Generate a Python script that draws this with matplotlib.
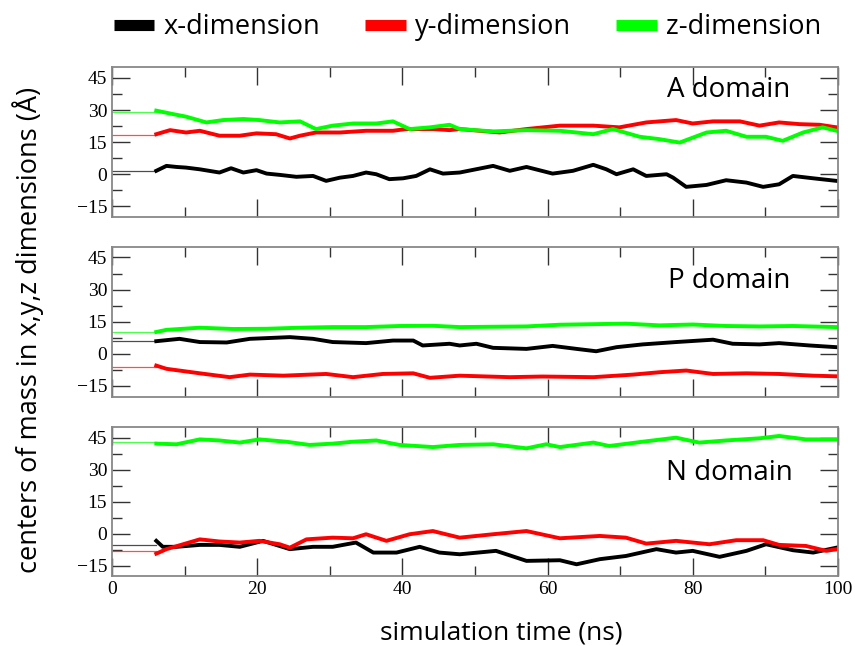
import matplotlib.pyplot as plt
from matplotlib.lines import Line2D

# start-up (equilibration) values drawn flat from 0 to 6 ns
t_start = 6.1

# ---- A domain ----
a_x_t = [6.1, 7.5, 8.9, 10.2, 12.1, 14.8, 16.4, 18.1, 19.9, 21.3, 23.1, 25.4, 27.7, 29.5, 31.4, 33.2, 35.0, 36.4,
         38.2, 40.1, 41.9, 43.8, 45.6, 47.9, 52.5, 54.8, 57.1, 60.7, 63.5, 66.3, 68.1, 69.5, 71.8, 73.6, 76.4, 77.3,
         79.1, 81.9, 84.6, 87.4, 89.7, 91.9, 93.8, 96.6, 99.8]
a_x_v = [1.6, 3.9, 3.4, 3.1, 2.3, 0.8, 2.8, 0.8, 1.9, 0.3, -0.3, -1.2, -0.8, -3.1, -1.6, -0.8, 0.8, 0.0,
         -2.3, -1.9, -0.8, 2.3, 0.3, 0.8, 3.9, 1.6, 3.4, 0.3, 1.6, 4.4, 2.3, 0.0, 2.3, -0.8, 0.0, -1.6,
         -5.9, -5.0, -2.8, -3.9, -5.9, -4.7, -0.8, -1.9, -3.1]
a_y_t = [6.1, 8.0, 10.2, 12.1, 14.8, 17.6, 19.9, 22.6, 24.5, 25.9, 28.1, 31.4, 35.0, 38.7, 40.5, 44.2, 46.5, 47.9,
         53.4, 57.1, 61.7, 66.3, 69.9, 73.6, 77.7, 80.0, 82.8, 86.5, 89.2, 91.9, 94.7, 97.5, 99.8]
a_y_v = [18.7, 20.6, 19.5, 20.3, 18.0, 18.0, 19.1, 18.7, 16.7, 18.0, 19.5, 19.5, 20.3, 20.3, 21.1, 21.1, 20.6, 21.1,
         19.5, 21.1, 22.7, 22.7, 21.9, 24.2, 25.3, 23.7, 24.7, 24.7, 22.7, 24.2, 23.4, 23.1, 21.9]
a_z_t = [6.1, 8.4, 10.2, 13.0, 15.3, 18.1, 20.3, 23.1, 25.9, 28.1, 30.4, 33.2, 36.4, 38.7, 41.0, 43.8, 46.5, 47.9,
         52.5, 57.1, 61.7, 66.3, 69.0, 72.7, 75.4, 78.2, 81.9, 84.6, 87.4, 90.1, 92.4, 95.2, 97.9, 99.8]
a_z_v = [29.7, 28.1, 26.9, 24.2, 25.3, 25.8, 25.3, 24.2, 24.7, 21.1, 22.7, 23.7, 23.7, 24.7, 21.1, 21.9, 23.1, 21.1,
         20.0, 20.6, 20.3, 18.7, 21.1, 17.5, 16.4, 14.8, 19.5, 20.3, 17.5, 17.5, 15.6, 19.5, 21.9, 20.3]
a_start = [1.5, 18.4, 29.2]

# ---- P domain ----
p_x_t = [6.1, 9.3, 12.1, 15.8, 19.0, 24.5, 27.7, 30.4, 35.0, 38.7, 41.5, 42.8, 46.5, 47.9, 50.2, 52.5, 57.1, 60.7,
         64.0, 66.7, 69.5, 73.1, 77.7, 82.8, 85.5, 89.2, 91.9, 96.1, 99.8]
p_x_v = [5.9, 7.0, 5.5, 5.3, 7.0, 7.8, 7.0, 5.5, 5.0, 6.2, 6.2, 3.9, 4.7, 3.9, 4.7, 2.8, 2.3, 3.7,
         2.3, 1.2, 3.1, 4.4, 5.5, 6.6, 4.7, 4.4, 5.0, 3.9, 3.1]
p_y_t = [6.1, 7.5, 12.1, 16.2, 19.0, 23.6, 29.5, 33.2, 37.3, 41.5, 43.8, 47.9, 54.8, 59.3, 66.3, 71.8, 75.4, 79.1,
         82.8, 87.4, 91.9, 96.6, 99.8]
p_y_v = [-5.5, -7.0, -9.1, -10.9, -9.7, -10.2, -9.4, -10.9, -9.4, -9.1, -11.2, -10.2, -10.9, -10.6, -10.9, -9.7, -8.6, -7.8,
         -9.4, -9.1, -9.4, -10.2, -10.5]
p_z_t = [6.1, 7.5, 12.1, 16.7, 21.3, 25.9, 30.4, 35.0, 39.6, 44.2, 47.9, 57.1, 61.7, 70.8, 75.4, 80.0, 84.6, 89.2,
         93.8, 99.8]
p_z_v = [10.2, 11.2, 12.2, 11.6, 11.7, 12.2, 12.5, 12.5, 13.0, 13.1, 12.5, 12.8, 13.6, 14.1, 13.3, 13.7, 13.0, 12.8,
         13.0, 12.5]
p_start = [5.8, -6.3, 10.1]

# ---- N domain ----
n_x_t = [6.1, 7.0, 8.9, 12.1, 14.8, 17.6, 20.8, 22.6, 24.5, 27.7, 30.4, 33.6, 36.0, 39.2, 42.4, 45.1, 47.9, 52.9,
         57.1, 61.7, 64.0, 67.2, 70.8, 75.0, 77.7, 80.0, 83.7, 87.4, 90.1, 93.8, 96.6, 99.8]
n_x_v = [-3.4, -6.2, -6.2, -5.3, -5.3, -6.2, -3.4, -5.3, -7.3, -6.2, -6.2, -4.2, -8.9, -8.9, -6.2, -8.9, -9.7, -8.1,
         -12.8, -12.5, -14.4, -12.0, -10.5, -7.3, -8.9, -8.1, -10.9, -8.1, -5.0, -7.8, -8.9, -6.6]
n_y_t = [6.1, 7.5, 9.8, 12.1, 14.8, 17.6, 20.3, 23.1, 24.5, 26.8, 30.4, 33.2, 35.0, 37.8, 41.0, 44.2, 47.9, 52.5,
         57.1, 61.7, 67.2, 70.8, 73.6, 77.7, 82.3, 86.0, 89.7, 91.9, 95.6, 98.4, 99.8]
n_y_v = [-9.4, -7.3, -5.0, -2.7, -3.7, -4.2, -3.4, -5.0, -6.6, -2.7, -1.9, -2.2, -0.3, -3.4, -0.3, 1.2, -1.9, -0.3,
         1.2, -2.2, -1.1, -1.9, -4.7, -3.4, -5.0, -3.1, -3.1, -5.3, -5.8, -8.1, -7.3]
n_z_t = [6.1, 8.9, 12.1, 14.8, 17.6, 20.3, 24.0, 27.2, 30.4, 33.2, 36.4, 39.6, 44.2, 47.9, 52.5, 57.1, 59.8, 61.7,
         66.3, 68.5, 73.1, 77.7, 80.9, 84.6, 89.2, 91.9, 95.6, 99.8]
n_z_v = [42.2, 41.9, 44.2, 43.7, 42.7, 44.2, 43.1, 41.6, 42.2, 43.1, 43.7, 41.6, 40.6, 41.6, 41.9, 40.0, 41.9, 40.6,
         42.7, 41.1, 43.1, 45.0, 42.7, 43.7, 44.7, 45.8, 44.2, 44.2]
n_start = [-5.4, -8.1, 42.8]

panels = [
    ('A domain', [(a_x_t, a_x_v), (a_y_t, a_y_v), (a_z_t, a_z_v)], a_start, 0.85),
    ('P domain', [(p_x_t, p_x_v), (p_y_t, p_y_v), (p_z_t, p_z_v)], p_start, 0.77),
    ('N domain', [(n_x_t, n_x_v), (n_y_t, n_y_v), (n_z_t, n_z_v)], n_start, 0.69),
]
colors = ['#000000', '#ff0000', '#00ff00']
labels = ['x-dimension', 'y-dimension', 'z-dimension']
sans = 'Open Sans'

fig = plt.figure(figsize=(8.55, 6.46), dpi=100)
boxes = [(0.664, 0.896), (0.386, 0.618), (0.108, 0.339)]

for i, (name, series, start, ty) in enumerate(panels):
    b, t = boxes[i]
    ax = fig.add_axes([0.131, b, 0.849, t - b])
    for (tt, vv), s0, c in zip(series, start, colors):
        ax.plot([0, t_start], [s0, s0], color=c, lw=0.9, alpha=0.7)
        ax.plot(tt, vv, color=c, lw=2.8)
    ax.set_xlim(0, 100)
    ax.set_ylim(-20, 50)
    ax.set_yticks([-15, 0, 15, 30, 45])
    ax.set_yticks([-7.5, 7.5, 22.5, 37.5], minor=True)
    ax.set_xticks([0, 20, 40, 60, 80, 100])
    ax.set_xticks([10, 30, 50, 70, 90], minor=True)
    ax.tick_params(which='both', direction='in', top=True, right=True, colors='#333333')
    ax.tick_params(which='major', length=13, width=1.0)
    ax.tick_params(which='minor', length=7, width=1.0)
    for lab in ax.get_yticklabels() + ax.get_xticklabels():
        lab.set_fontfamily('Liberation Serif')
        lab.set_fontsize(14)
        lab.set_color('black')
    if i < 2:
        ax.set_xticklabels([])
    for sp in ax.spines.values():
        sp.set_color('#888888')
        sp.set_linewidth(1.3)
    ax.text(0.85, ty, name, transform=ax.transAxes, ha='center', va='center',
            fontsize=20, family=sans)
    if i == 2:
        ax.set_xlabel('simulation time (ns)', fontsize=19, family=sans, labelpad=16)
        ax.xaxis.set_label_coords(0.536, -0.30)

fig.text(0.033, 0.489, 'centers of mass in x,y,z dimensions (Å)', rotation=90,
         ha='center', va='center', fontsize=19.5, family=sans)

handles = [Line2D([0], [0], color=c, lw=8, solid_capstyle='butt') for c in colors]
fig.legend(handles, labels, loc='center', bbox_to_anchor=(0.547, 0.958), ncol=3, frameon=False,
           prop={'family': sans, 'size': 19.5}, handlelength=1.5, handletextpad=0.35, columnspacing=1.65)

fig.savefig('out.png', dpi=100)
